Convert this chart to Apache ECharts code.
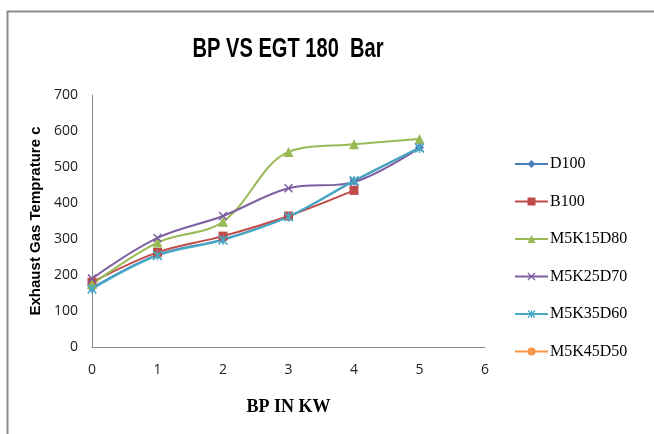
<!DOCTYPE html>
<html>
<head>
<meta charset="utf-8">
<script src="https://cdn.jsdelivr.net/npm/echarts@6/dist/echarts.min.js"></script>
<style>
  html, body { margin: 0; padding: 0; background: #fff; }
  #chart { width: 654px; height: 434px; }
</style>
</head>
<body>
<div id="chart"></div>
<script>
// Brake power (kW) on the x axis
const bp = [0, 1, 2, 3, 4, 5];
const xTicks = [0, 1, 2, 3, 4, 5, 6];
const yTicks = [0, 100, 200, 300, 400, 500, 600, 700];

// Exhaust gas temperature for each fuel blend
const seriesNames = ['D100', 'B100', 'M5K15D80', 'M5K25D70', 'M5K35D60', 'M5K45D50'];
const d100     = [164, 256, 299, 362, 461, 554];
const b100     = [180, 263, 308, 364, 435];
const m5k15d80 = [174, 290, 348, 542, 563, 578];
const m5k25d70 = [190, 303, 364, 441, 458, 553];
const m5k35d60 = [161, 254, 297, 362, 462, 553];
const m5k45d50 = [];

const chartTitle = 'BP VS EGT 180  Bar';

const values = [d100, b100, m5k15d80, m5k25d70, m5k35d60, m5k45d50];
const colors = ['#4A7EBB', '#BE4B48', '#98B954', '#7D60A0', '#46AAC5', '#F79646'];

const crossPath = 'path://M0,1.2 L1.2,0 L10,8.8 L8.8,10 Z M8.8,0 L10,1.2 L1.2,10 L0,8.8 Z';
const starPath = 'path://M0,1.2 L1.2,0 L10,8.8 L8.8,10 Z M8.8,0 L10,1.2 L1.2,10 L0,8.8 Z M4.4,0 L5.6,0 L5.6,10 L4.4,10 Z';
const symbols = ['diamond', 'rect', 'triangle', crossPath, starPath, 'circle'];
const symbolSizes = [9, 9, 10, 9, 10, 9];

// Narrow bold title: measure the text and squeeze it horizontally
const titleFont = 'bold 27px "Liberation Sans"';
const titleWidth = 191;
const measureCtx = document.createElement('canvas').getContext('2d');
measureCtx.font = titleFont;
const titleScale = titleWidth / measureCtx.measureText(chartTitle).width;

const chart = echarts.init(document.getElementById('chart'));

const series = seriesNames.map((name, i) => ({
  name: name,
  type: 'line',
  smooth: 0.35,
  data: values[i].map((v, k) => [bp[k], v]),
  symbol: symbols[i],
  symbolSize: symbolSizes[i],
  showAllSymbol: true,
  lineStyle: { color: colors[i], width: 2 },
  itemStyle: { color: colors[i] },
  z: 2
}));

chart.setOption({
  animation: false,
  backgroundColor: '#ffffff',
  graphic: [{
    type: 'rect',
    shape: { x: 7.5, y: 11.5, width: 700, height: 500 },
    style: { fill: 'none', stroke: '#8c8c8c', lineWidth: 2 },
    silent: true
  }, {
    type: 'text',
    x: 288,
    y: 50,
    scaleX: titleScale,
    style: {
      text: chartTitle,
      font: titleFont,
      fill: '#000',
      align: 'center',
      verticalAlign: 'middle'
    },
    silent: true
  }],
  legend: {
    orient: 'vertical',
    left: 509,
    top: 151,
    itemGap: 21.5,
    itemWidth: 33,
    itemHeight: 10,
    data: seriesNames,
    textStyle: {
      fontFamily: 'Liberation Serif',
      fontSize: 16,
      color: '#000',
      padding: [0, 0, 0, -3]
    }
  },
  grid: { left: 92, right: 169, top: 95, bottom: 87 },
  xAxis: {
    type: 'value',
    min: xTicks[0],
    max: xTicks[xTicks.length - 1],
    interval: 1,
    name: 'BP IN KW',
    nameLocation: 'middle',
    nameGap: 51,
    nameTextStyle: {
      fontFamily: 'Liberation Serif',
      fontWeight: 'bold',
      fontSize: 18,
      color: '#000'
    },
    axisLine: { lineStyle: { color: '#8c8c8c', width: 1 } },
    axisTick: { show: false },
    splitLine: { show: false },
    axisLabel: {
      margin: 16,
      fontFamily: 'Open Sans',
      fontSize: 14,
      color: '#222',
      formatter: v => (xTicks.includes(v) ? String(v) : '')
    }
  },
  yAxis: {
    type: 'value',
    min: yTicks[0],
    max: yTicks[yTicks.length - 1],
    interval: 100,
    name: 'Exhaust Gas Temprature c',
    nameLocation: 'middle',
    nameGap: 38,
    nameTextStyle: {
      fontFamily: 'Liberation Sans',
      fontWeight: 'bold',
      fontSize: 15,
      color: '#000'
    },
    axisLine: { show: true, lineStyle: { color: '#8c8c8c', width: 1 } },
    axisTick: { show: false },
    splitLine: { show: false },
    axisLabel: {
      margin: 14,
      fontFamily: 'Open Sans',
      fontSize: 14,
      color: '#222',
      formatter: v => (yTicks.includes(v) ? String(v) : '')
    }
  },
  series: series
});
</script>
</body>
</html>
